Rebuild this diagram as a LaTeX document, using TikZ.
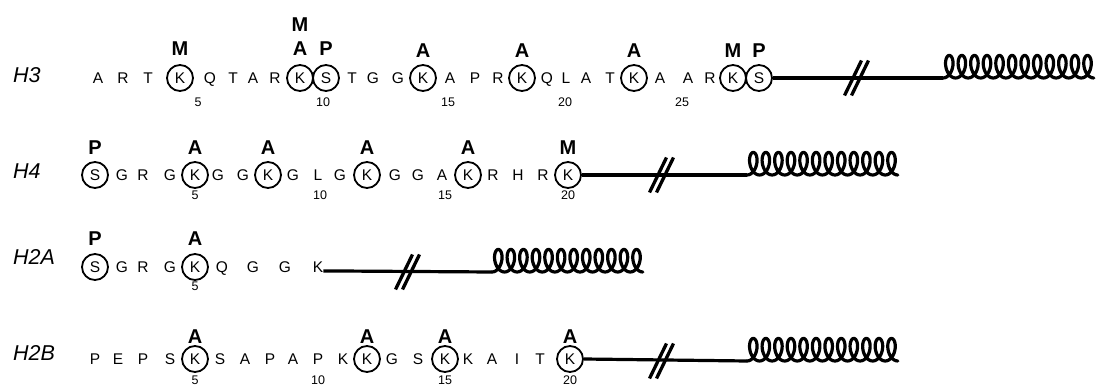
\documentclass[tikz,border=0pt]{standalone}
\usepackage{fontspec}
\setmainfont{Liberation Sans}

% helical C-terminal domain: a looped trochoid starting at #1
\newcommand{\coilat}[3]{%
  \draw[coil, shift={(#1)}] plot[domain=0:#2, samples=#3, smooth]
    ({2.0*\x/57.29578+6.6*sin(\x)}, {-11.3*(1-cos(\x))});}
% double-slash break mark centred on coordinate #1
\newcommand{\brkat}[1]{%
  \draw[brk] ([shift={(-8.5,17.5)}]#1) -- ++(17,-35);
  \draw[brk] ([shift={(-1.5,17.5)}]#1) -- ++(17,-35);}

\begin{document}
\begin{tikzpicture}[x=1pt,y=-1pt,
  resn/.style={inner sep=0pt, font=\fontsize{15.5}{15.5}\selectfont, text height=11pt, text depth=0pt},
  resc/.style={resn, circle, draw, line width=1.8pt, minimum size=26pt},
  modlbl/.style={inner sep=0pt, font=\fontsize{20}{20}\selectfont\bfseries, text height=14.3pt, text depth=0pt},
  posn/.style={inner sep=0pt, font=\fontsize{12.5}{12.5}\selectfont},
  hist/.style={anchor=west, inner sep=0pt, font=\fontsize{21.5}{21.5}\selectfont\itshape},
  tail/.style={line width=3.2pt},
  brk/.style={line width=3.3pt},
  coil/.style={line width=3.2pt, line join=round, line cap=round}]

\useasboundingbox (0,0) rectangle (1096,385);

% ---------------- H3 ----------------
\node[hist] (h3lbl) at (13,75) {H3};
\foreach \x/\l/\t [count=\i] in {98/A/n,123/R/n,148/T/n,180/K/c,210/Q/n,233/T/n,253/A/n,275/R/n,
  300/K/c,326/S/c,352/T/n,373/G/n,398/G/n,423/K/c,450/A/n,475/P/n,498/R/n,522/K/c,547/Q/n,
  566/L/n,586/A/n,610/T/n,634/K/c,660/A/n,688/A/n,710/R/n,733/K/c,759/S/c}
  \node[res\t] (h3-\i) at (\x,78) {\l};
\foreach \x/\y/\l [count=\i] in {180/48/M,300/24/M,300/48/A,326/48/P,423/50/A,522/50/A,634/50/A,733/50/M,759/50/P}
  \node[modlbl] (h3m\i) at (\x,\y) {\l};
\foreach \x/\n in {198/5,323/10,448/15,565/20,682/25}
  \node[posn] (h3p\n) at (\x,102) {\n};
\coordinate (h3coil) at (943,78);
\coordinate (h3brk) at (853,78);
\draw[tail] (h3-28.east) -- (h3coil);
\brkat{h3brk}
\coilat{h3coil}{4320}{361}

% ---------------- H4 ----------------
\node[hist] (h4lbl) at (13,171) {H4};
\foreach \x/\l/\t [count=\i] in {95/S/c,122/G/n,143/R/n,170/G/n,195/K/c,218/G/n,243/G/n,268/K/c,
  293/G/n,318/L/n,340/G/n,367/K/c,395/G/n,418/G/n,442/A/n,468/K/c,493/R/n,518/H/n,543/R/n,568/K/c}
  \node[res\t] (h4-\i) at (\x,175) {\l};
\foreach \x/\l [count=\i] in {95/P,195/A,268/A,367/A,468/A,568/M}
  \node[modlbl] (h4m\i) at (\x,147) {\l};
\foreach \x/\n in {195/5,320/10,445/15,568/20}
  \node[posn] (h4p\n) at (\x,195) {\n};
\coordinate (h4coil) at (747,175);
\coordinate (h4brk) at (658,175);
\draw[tail] (h4-20.east) -- (h4coil);
\brkat{h4brk}
\coilat{h4coil}{4320}{361}

% ---------------- H2A ----------------
\node[hist] (h2albl) at (13,257) {H2A};
\foreach \x/\l/\t [count=\i] in {95/S/c,122/G/n,143/R/n,170/G/n,195/K/c,222/Q/n,253/G/n,285/G/n,318/K/n}
  \node[res\t] (h2a-\i) at (\x,267) {\l};
\node[modlbl] (h2am1) at (95,238) {P};
\node[modlbl] (h2am2) at (195,238) {A};
\node[posn] (h2ap5) at (195,286) {5};
\coordinate (h2acoil) at (492,272);
\coordinate (h2abrk) at (404,272);
\draw[tail] ([shift={(0,-1.6)}]h2a-9.base east) -- (h2acoil);
\brkat{h2abrk}
\coilat{h2acoil}{4320}{361}

% ---------------- H2B ----------------
\node[hist] (h2blbl) at (13,353) {H2B};
\foreach \x/\l/\t [count=\i] in {95/P/n,118/E/n,143/P/n,170/S/n,195/K/c,220/S/n,245/A/n,270/P/n,
  293/A/n,318/P/n,343/K/n,367/K/c,392/G/n,418/S/n,445/K/c,468/K/n,492/A/n,517/I/n,540/T/n,570/K/c}
  \node[res\t] (h2b-\i) at (\x,359) {\l};
\foreach \x/\l [count=\i] in {195/A,367/A,445/A,570/A}
  \node[modlbl] (h2bm\i) at (\x,336) {\l};
\foreach \x/\n in {195/5,318/10,445/15,570/20}
  \node[posn] (h2bp\n) at (\x,380) {\n};
\coordinate (h2bcoil) at (747,361);
\coordinate (h2bbrk) at (658,361);
\draw[tail] (h2b-20.east) -- (h2bcoil);
\brkat{h2bbrk}
\coilat{h2bcoil}{4320}{361}

\end{tikzpicture}
\end{document}
